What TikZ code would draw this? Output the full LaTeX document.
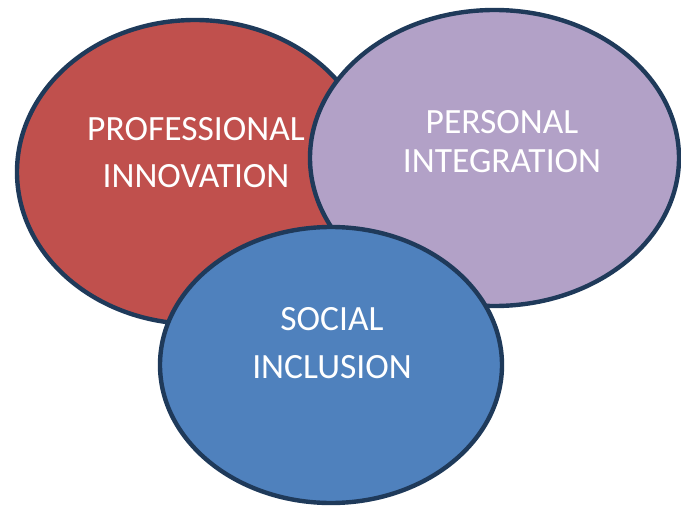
\documentclass[tikz,border=0pt]{standalone}
\usepackage{fontspec}
\setmainfont{Carlito}
\usetikzlibrary{shapes.geometric}
\definecolor{prored}{HTML}{C0504D}
\definecolor{perlilac}{HTML}{B2A1C7}
\definecolor{socblue}{HTML}{4F81BD}
\definecolor{rim}{HTML}{1F3A5A}
\begin{document}
\begin{tikzpicture}[x=1pt,y=-1pt,
  blob/.style={ellipse,draw=rim,line width=4.4pt,inner sep=0pt,outer sep=0pt},
  word/.style={text=white,align=center,anchor=base,inner sep=0pt,font=\fontsize{35.5}{47}\selectfont}]
  \useasboundingbox (0,0) rectangle (681,506);
  \node[blob,fill=prored,minimum width=356pt,minimum height=304pt] (P) at (195,172) {};
  \node[blob,fill=perlilac,minimum width=369pt,minimum height=296pt] (I) at (494.5,158) {};
  \node[blob,fill=socblue,minimum width=342pt,minimum height=276pt] (S) at (331,365) {};
  \node[word] (Ptext) at (196,187) {PROFESSIONAL\\INNOVATION};
  \node[word,font=\fontsize{35.5}{39}\selectfont] (Itext) at (502,172) {PERSONAL\\INTEGRATION};
  \node[word,font=\fontsize{35.5}{48}\selectfont] (Stext) at (332,378) {SOCIAL\\INCLUSION};
\end{tikzpicture}
\end{document}
